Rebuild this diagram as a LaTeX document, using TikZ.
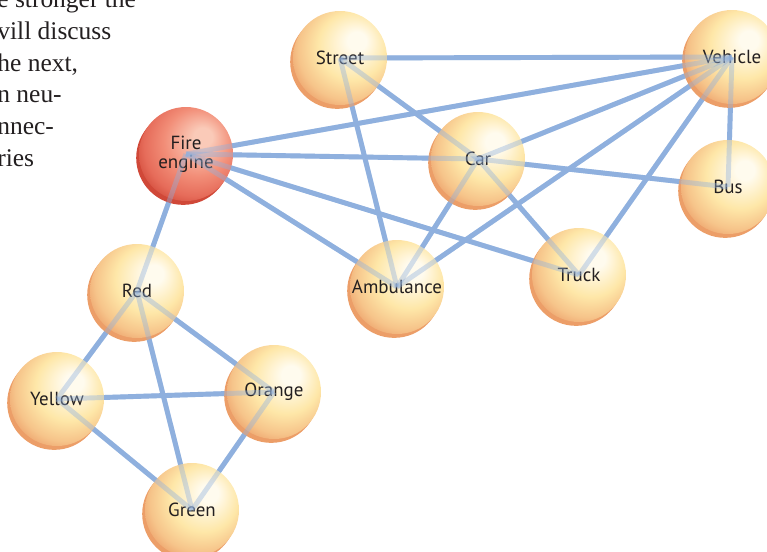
\documentclass[tikz,border=0pt]{standalone}
\usepackage{fontspec}
\setmainfont{Liberation Serif}
\newfontfamily\labelfont{PT Sans}
\usetikzlibrary{backgrounds}
\definecolor{linkblue}{RGB}{143,176,222}
\definecolor{labelgray}{RGB}{35,31,32}
\definecolor{ylwhi}{RGB}{255,251,238}
\definecolor{ylwmid}{RGB}{254,231,168}
\definecolor{ylwlow}{RGB}{246,196,138}
\definecolor{ylwrim}{RGB}{236,158,104}
\definecolor{redhi}{RGB}{250,202,184}
\definecolor{redmid}{RGB}{242,142,120}
\definecolor{redlow}{RGB}{230,108,90}
\definecolor{redrim}{RGB}{208,72,56}
\pgfdeclareradialshading{ylwball}{\pgfpoint{10bp}{10bp}}{color(0bp)=(ylwhi); color(5bp)=(ylwhi); color(18bp)=(ylwmid); color(27bp)=(ylwlow); color(33bp)=(ylwrim); color(50bp)=(ylwrim)}
\pgfdeclareradialshading{redball}{\pgfpoint{10bp}{10bp}}{color(0bp)=(redhi); color(5bp)=(redhi); color(18bp)=(redmid); color(27bp)=(redlow); color(33bp)=(redrim); color(50bp)=(redrim)}
\tikzset{
  ball/.style={circle, minimum size=1.88cm, inner sep=0pt, align=center,
    font=\labelfont\fontsize{10.8}{11}\selectfont, text=labelgray, shading=#1ball,
    preaction={fill=#1rim, transform canvas={shift={(-1.6pt,-2.2pt)}}}},
  ball/.default=ylw,
  link/.style={draw=linkblue, line width=2.8pt},
  bodytext/.style={anchor=base west, inner sep=0pt, text=labelgray,
    font=\fontsize{14.5}{17}\selectfont},
}
% who is linked to whom
\newcommand\linklist{street/vehicle, street/car, street/ambulance,
  fire/vehicle, fire/car, fire/ambulance, fire/truck, fire/red,
  car/vehicle, car/ambulance, car/truck, car/bus,
  ambulance/vehicle, truck/vehicle, vehicle/bus,
  red/yellow, red/orange, red/green, yellow/orange, yellow/green, orange/green}
\begin{document}
\begin{tikzpicture}[x=0.02cm, y=-0.02cm]
  \useasboundingbox (0,0) rectangle (767,551);
  % running text at the left margin
  \foreach \txt [count=\i] in {e stronger the, vill discuss, {he next,}, n neu-, nnec-, ries}
    \node[bodytext] at (-3, {8+31.6*(\i-1)}) {\txt};
  % concepts
  \node[ball] (street) at (340,58) {Street};
  \node[ball] (vehicle) at (732,57) {Vehicle};
  \node[ball=red] (fire) at (186,154) {Fire\\engine};
  \node[ball] (car) at (478,159) {Car};
  \node[ball] (bus) at (728,187) {Bus};
  \node[ball] (red) at (137,291) {Red};
  \node[ball] (ambulance) at (397,287) {Ambulance};
  \node[ball] (truck) at (579,275) {Truck};
  \node[ball] (yellow) at (57,399) {Yellow};
  \node[ball] (orange) at (274,392) {Orange};
  \node[ball] (green) at (192,510) {Green};
  % links behind the spheres
  \begin{scope}[on background layer]
    \foreach \a/\b in \linklist
      \draw[link] (\a.center) -- (\b.center);
  \end{scope}
  % and faintly through them
  \foreach \a/\b in \linklist
    \draw[link, draw opacity=.4] (\a.center) -- (\b.center);
\end{tikzpicture}
\end{document}
